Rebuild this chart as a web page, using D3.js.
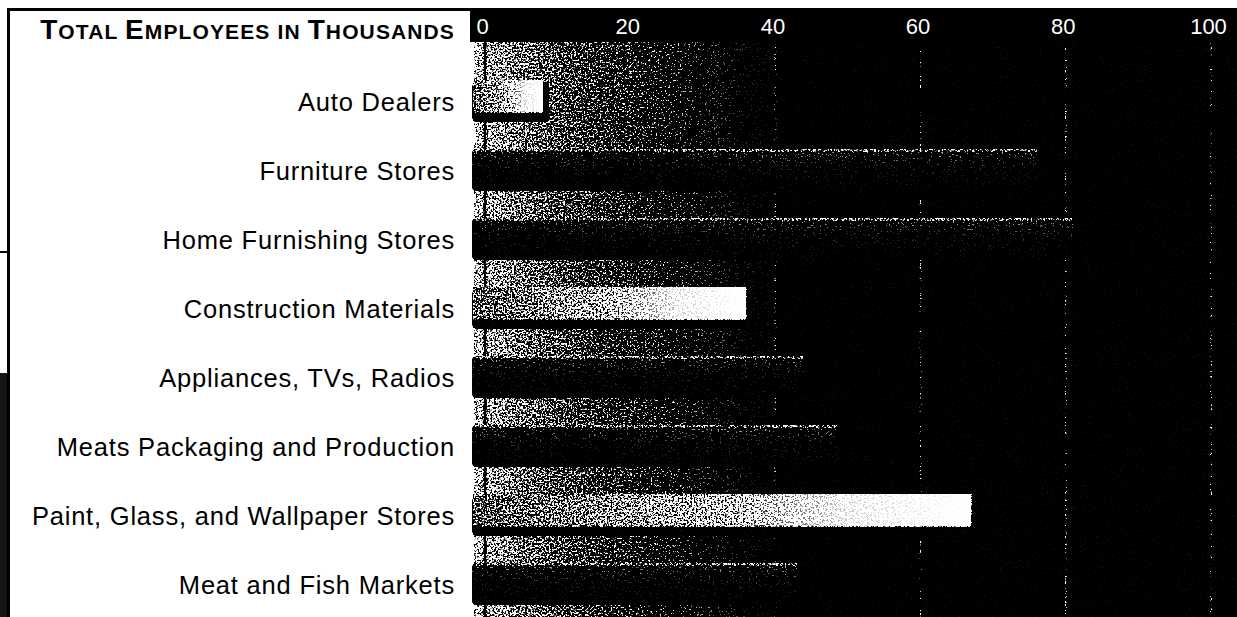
<!DOCTYPE html>
<html>
<head>
<meta charset="utf-8">
<script src="https://cdn.jsdelivr.net/npm/d3@7"></script>
<style>
  html, body { margin: 0; padding: 0; background: #fff; }
  svg { display: block; }
</style>
</head>
<body>
<svg id="chart" width="1237" height="617"></svg>
<script>
// ---- data ----
const categories = [
  "Auto Dealers",
  "Furniture Stores",
  "Home Furnishing Stores",
  "Construction Materials",
  "Appliances, TVs, Radios",
  "Meats Packaging and Production",
  "Paint, Glass, and Wallpaper Stores",
  "Meat and Fish Markets"
];
const employees = [8, 76, 81, 36, 44, 48.5, 67, 43];   // thousands
const highlighted = [true, false, false, true, false, false, true, false];
const tickValues = [0, 20, 40, 60, 80, 100];
const titleParts = [["T", true], ["OTAL ", false], ["E", true], ["MPLOYEES ", false],
                    ["IN ", false], ["T", true], ["HOUSANDS", false]];

const W = 1237, H = 617;
const svg = d3.select("#chart");
const defs = svg.append("defs");

const x = d3.scaleLinear().domain([0, 100]).range([485, 1211]);
const y = d3.scaleBand().domain(categories).range([80, 605]).paddingInner(0.391).paddingOuter(0);

// gradients
const bg = defs.append("linearGradient").attr("id", "bgGrad")
  .attr("gradientUnits", "userSpaceOnUse").attr("x1", 474).attr("x2", 780).attr("y1", 0).attr("y2", 0);
[[0, "#d2d2d2"], [0.12, "#aaaaaa"], [0.35, "#707070"], [0.65, "#2e2e2e"], [0.9, "#080808"], [1, "#000"]]
  .forEach(([o, c]) => bg.append("stop").attr("offset", o).attr("stop-color", c));

const lg = defs.append("linearGradient").attr("id", "lightGrad")
  .attr("x1", 0).attr("x2", 1).attr("y1", 0).attr("y2", 0);
[[0, "#8c8c8c"], [0.45, "#c8c8c8"], [0.75, "#f6f6f6"], [1, "#ffffff"]]
  .forEach(([o, c]) => lg.append("stop").attr("offset", o).attr("stop-color", c));

const dg = defs.append("linearGradient").attr("id", "darkGrad")
  .attr("x1", 0).attr("x2", 0).attr("y1", 0).attr("y2", 1);
[[0, "#262626"], [0.45, "#080808"], [1, "#000"]]
  .forEach(([o, c]) => dg.append("stop").attr("offset", o).attr("stop-color", c));

// dither filter (scanned halftone look)
const f = defs.append("filter").attr("id", "dither")
  .attr("filterUnits", "userSpaceOnUse")
  .attr("x", 468).attr("y", 42).attr("width", W - 468).attr("height", H - 42)
  .attr("color-interpolation-filters", "sRGB");
f.append("feTurbulence").attr("type", "fractalNoise").attr("baseFrequency", 0.55)
  .attr("numOctaves", 2).attr("seed", 11).attr("result", "t");
f.append("feColorMatrix").attr("in", "t").attr("type", "matrix")
  .attr("values", "3 0 0 0 -0.85  3 0 0 0 -0.85  3 0 0 0 -0.85  0 0 0 0 1").attr("result", "n");
// alpha = k1 + k2 + k3 + k4 = 1 ; colour ~ K*(L - N)
f.append("feComposite").attr("in", "SourceGraphic").attr("in2", "n").attr("operator", "arithmetic")
  .attr("k1", 0.95).attr("k2", 5).attr("k3", -5).attr("k4", 0.05);

// ---- frame ----
svg.append("rect").attr("x", 7).attr("y", 8).attr("width", 470).attr("height", 3).attr("fill", "#000");
svg.append("rect").attr("x", 7).attr("y", 8).attr("width", 3).attr("height", H - 8).attr("fill", "#000");
svg.append("rect").attr("x", 0).attr("y", 373).attr("width", 7).attr("height", H - 373).attr("fill", "#151515");
svg.append("rect").attr("x", 0).attr("y", 251).attr("width", 9).attr("height", 2).attr("fill", "#000");

// header band
svg.append("rect").attr("x", 470).attr("y", 8).attr("width", W - 470).attr("height", 34).attr("fill", "#000");

// ---- plot panel (dithered) ----
const panel = svg.append("g").attr("filter", "url(#dither)");
panel.append("rect").attr("x", 474).attr("y", 42).attr("width", W - 474).attr("height", H - 42)
  .attr("fill", "url(#bgGrad)");

// grid lines
panel.selectAll("line.grid").data(tickValues.filter(v => v > 0)).join("line")
  .attr("class", "grid")
  .attr("x1", d => x(d)).attr("x2", d => x(d))
  .attr("y1", 42).attr("y2", H)
  .attr("stroke", "rgba(255,255,255,0.26)").attr("stroke-width", 1.6);
panel.append("line")
  .attr("x1", x(0)).attr("x2", x(0)).attr("y1", 42).attr("y2", H)
  .attr("stroke", "#000").attr("stroke-width", 2.6);

const rows = categories.map((c, i) => ({ c, v: employees[i], hi: highlighted[i] }));
const bh = y.bandwidth();

// dark bars
const dark = rows.filter(d => !d.hi);
panel.selectAll("rect.dark").data(dark).join("rect")
  .attr("class", "dark")
  .attr("x", x(0) - 13).attr("y", d => y(d.c))
  .attr("width", d => x(d.v) - x(0) + 13).attr("height", bh)
  .attr("rx", 3).attr("fill", "url(#darkGrad)");
panel.selectAll("rect.edge").data(dark).join("rect")
  .attr("class", "edge")
  .attr("x", x(0) - 11).attr("y", d => y(d.c))
  .attr("width", d => x(d.v) - x(0) + 11).attr("height", 2.5)
  .attr("fill", "#9a9a9a");

// highlighted (light) bars with drop shadow
const light = rows.filter(d => d.hi);
panel.selectAll("rect.shadow").data(light).join("rect")
  .attr("class", "shadow")
  .attr("x", x(0) - 13).attr("y", d => y(d.c) + 2)
  .attr("width", d => x(d.v) - x(0) + 19).attr("height", bh - 2)
  .attr("rx", 4).attr("fill", "#000");
panel.selectAll("rect.light").data(light).join("rect")
  .attr("class", "light")
  .attr("x", x(0) - 12).attr("y", d => y(d.c))
  .attr("width", d => x(d.v) - x(0) + 12).attr("height", bh * 0.78)
  .attr("fill", "url(#lightGrad)");

// ---- top axis (tick labels) ----
const xAxis = d3.axisTop(x).tickValues(tickValues).tickSize(0).tickPadding(0).tickFormat(d3.format("d"));
const xg = svg.append("g").attr("transform", "translate(-3,34)").call(xAxis);
xg.select(".domain").remove();
xg.selectAll("text")
  .attr("fill", "#fff")
  .style("font-family", "'Liberation Sans', Arial, Helvetica, sans-serif")
  .style("font-size", "22px");

// ---- category labels ----
const yAxis = d3.axisLeft(y).tickSize(0).tickPadding(0);
const yg = svg.append("g").attr("transform", "translate(455,1)").call(yAxis);
yg.select(".domain").remove();
yg.selectAll("text")
  .attr("fill", "#000")
  .attr("dy", "0.34em")
  .style("font-family", "'Liberation Sans', Arial, Helvetica, sans-serif")
  .style("font-size", "25.5px")
  .style("letter-spacing", "0.8px");

// ---- title (small caps) ----
const title = svg.append("text")
  .attr("x", 455).attr("y", 39)
  .attr("text-anchor", "end")
  .style("font-family", "'Liberation Sans', Arial, Helvetica, sans-serif")
  .style("font-weight", "bold")
  .attr("fill", "#000");
titleParts.forEach(([t, big]) => {
  title.append("tspan").text(t).style("font-size", big ? "28px" : "21px");
});
const targetW = 415;
const natW = title.node().getComputedTextLength();
const nChars = titleParts.map(p => p[0]).join("").length;
title.style("letter-spacing", ((targetW - natW) / nChars).toFixed(2) + "px");
</script>
</body>
</html>
